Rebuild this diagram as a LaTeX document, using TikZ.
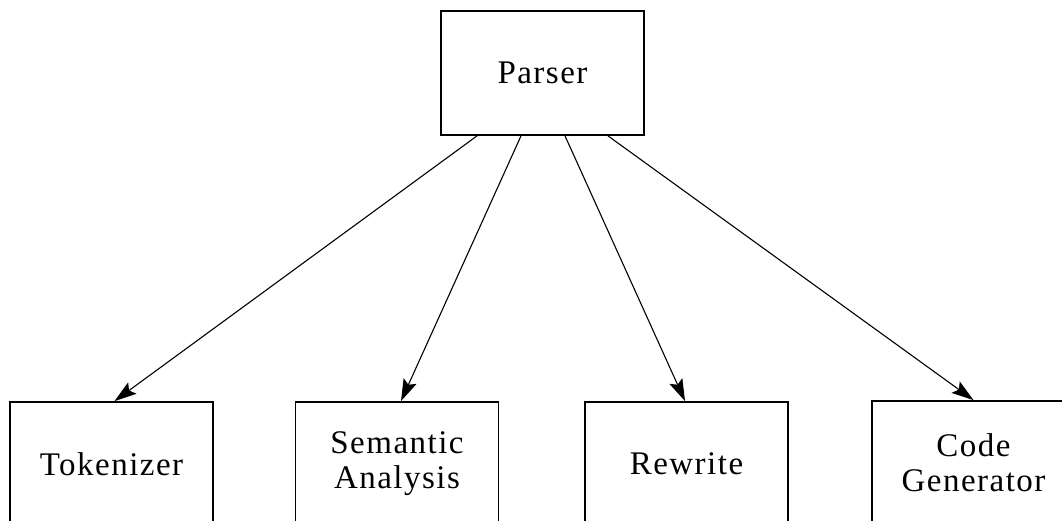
\documentclass[tikz,border=0pt]{standalone}
\usepackage{fontspec}
\setmainfont{Liberation Serif}[LetterSpace=4.5]
\usetikzlibrary{arrows.meta}
\begin{document}
\begin{tikzpicture}[x=1pt,y=-1pt,
  box/.style={draw,line width=1.8pt,minimum width=203pt,minimum height=124pt,inner sep=0pt,align=center,
    font=\fontsize{33}{35}\selectfont},
  conn/.style={line width=1.1pt,-{Stealth[length=22pt,width=14pt,inset=4pt]}}]
\path[use as bounding box] (0,0) rectangle (1062,521);
\node[box] (parser) at (542.5,73) {Parser};
\node[box] (tok) at (111.5,464) {Tokenizer};
\node[box] (sem) at (397,464) {Semantic\\Analysis};
\node[box] (rew) at (686.5,464) {Rewrite};
\node[box] (code) at (973.5,463) {Code\\Generator};
\draw[conn] ([xshift=-65.5pt]parser.south) -- ([xshift=3pt]tok.north);
\draw[conn] ([xshift=-21.5pt]parser.south) -- ([xshift=4pt]sem.north);
\draw[conn] ([xshift=22.5pt]parser.south) -- ([xshift=-1.5pt]rew.north);
\draw[conn] ([xshift=65.5pt]parser.south) -- (code.north);
\end{tikzpicture}
\end{document}
